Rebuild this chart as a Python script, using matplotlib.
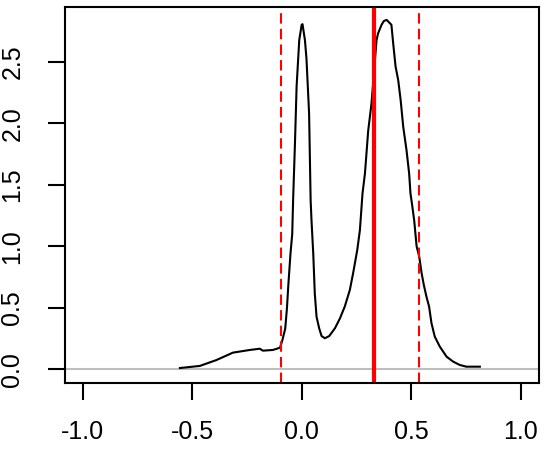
import numpy as np
import matplotlib.pyplot as plt

# density curve
dens_x = [-0.557, -0.466, -0.39, -0.315, -0.237, -0.192, -0.178, -0.132, -0.1,
          -0.09, -0.076, -0.068, -0.062, -0.052, -0.044, -0.04, -0.032, -0.024,
          -0.012, -0.001, 0.003, 0.014, 0.021, 0.033, 0.04, 0.044, 0.052, 0.059,
          0.067, 0.079, 0.09, 0.105, 0.125, 0.151, 0.174, 0.196, 0.219, 0.234,
          0.253, 0.265, 0.277, 0.288, 0.303, 0.318, 0.341, 0.348, 0.364, 0.374,
          0.387, 0.409, 0.417, 0.428, 0.44, 0.451, 0.463, 0.478, 0.49, 0.496,
          0.504, 0.513, 0.524, 0.536, 0.547, 0.557, 0.569, 0.581, 0.592, 0.607,
          0.63, 0.661, 0.691, 0.721, 0.751, 0.813]
dens_y = [0.01, 0.027, 0.075, 0.135, 0.157, 0.167, 0.151, 0.157, 0.175,
          0.23, 0.33, 0.5, 0.68, 0.94, 1.10, 1.375, 1.81, 2.30,
          2.675, 2.80, 2.805, 2.675, 2.526, 2.08, 1.375, 1.21, 0.94, 0.617,
          0.427, 0.333, 0.27, 0.252, 0.27, 0.333, 0.414, 0.51, 0.644, 0.78,
          0.97, 1.13, 1.43, 1.59, 1.94, 2.16, 2.675, 2.73, 2.80, 2.83,
          2.84, 2.80, 2.65, 2.46, 2.35, 2.19, 1.97, 1.78, 1.59, 1.43,
          1.33, 1.21, 1.0, 0.915, 0.78, 0.685, 0.59, 0.51, 0.374, 0.265,
          0.184, 0.102, 0.062, 0.035, 0.021, 0.021]

ci_low = -0.096
ci_high = 0.533
estimate = 0.329

xticks = [-1.0, -0.5, 0.0, 0.5, 1.0]
yticks = [0.0, 0.5, 1.0, 1.5, 2.0, 2.5]

plt.rcParams['font.family'] = ['Liberation Sans', 'DejaVu Sans']

fig = plt.figure(figsize=(5.44, 4.5), dpi=100)
ax = fig.add_axes([0.119, 0.148, 0.871, 0.836])

ax.axhline(0, color='#BEBEBE', lw=1.5)
ax.plot(dens_x, dens_y, color='black', lw=1.5)
ax.axvline(ci_low, color='red', lw=1.5, linestyle=(0, (5, 2.5)))
ax.axvline(ci_high, color='red', lw=1.5, linestyle=(0, (5, 2.5)))
ax.axvline(estimate, color='red', lw=3)

ax.set_xlim(-1.083, 1.081)
ax.set_ylim(-0.115, 2.943)

ax.set_xticks(xticks)
ax.set_xticklabels([f"{t:.1f}" for t in xticks])
ax.set_yticks(yticks)
ax.set_yticklabels([f"{t:.1f}" for t in yticks], rotation=90, va='center')

ax.tick_params(axis='both', length=12, width=1.5, labelsize=18)
ax.tick_params(axis='x', pad=14)
ax.tick_params(axis='y', pad=17)
for s in ax.spines.values():
    s.set_linewidth(1.5)

fig.savefig("out.png", dpi=100)
